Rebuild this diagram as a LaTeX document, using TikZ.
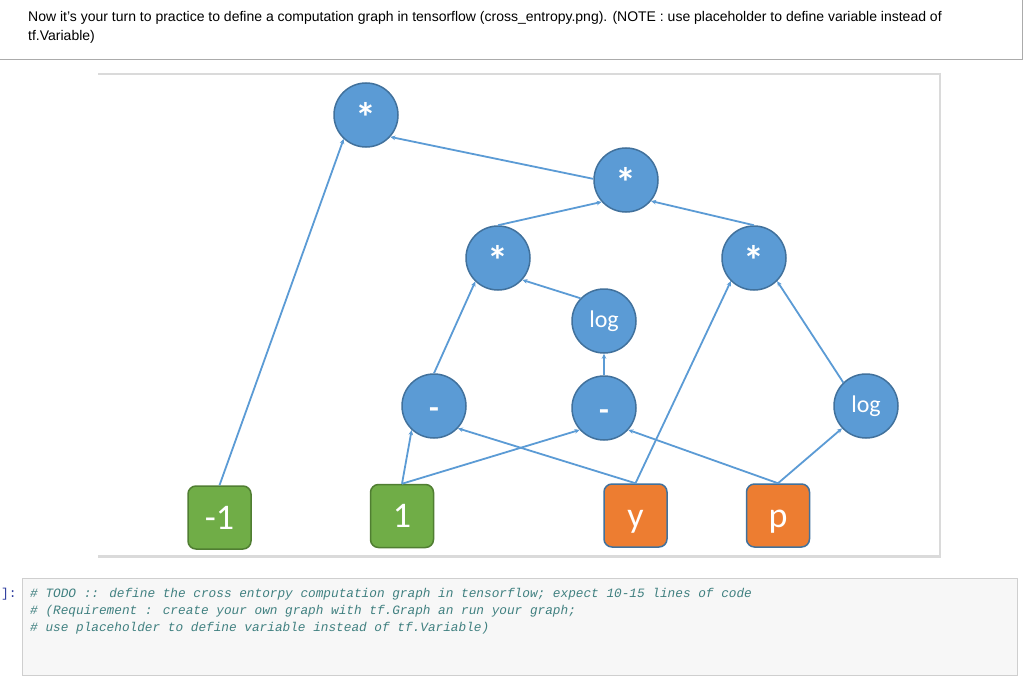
\documentclass[tikz,border=0pt]{standalone}
\usepackage{fontspec}
\setmainfont{Liberation Sans}
\newfontfamily\calib{Carlito}
\newfontfamily\codefont{Liberation Mono}
\usetikzlibrary{arrows.meta}
\definecolor{nodeblue}{HTML}{5B9BD5}
\definecolor{nodeline}{HTML}{41719C}
\definecolor{boxgreen}{HTML}{70AD47}
\definecolor{greenline}{HTML}{507E32}
\definecolor{boxorange}{HTML}{ED7D31}
\definecolor{cellline}{HTML}{ABABAB}
\definecolor{imgline}{HTML}{DADADA}
\definecolor{codebg}{HTML}{F7F7F7}
\definecolor{codeline}{HTML}{CFCFCF}
\definecolor{codetext}{HTML}{408080}
\definecolor{prompt}{HTML}{303F9F}
\tikzset{
  opnode/.style={circle, minimum size=64pt, inner sep=0pt, draw=nodeline, fill=nodeblue, line width=1.5pt, text=white},
  startxt/.style={inner sep=0pt, text=white, font=\calib\bfseries\fontsize{42}{42}\selectfont},
  minustxt/.style={inner sep=0pt, text=white, font=\calib\bfseries\fontsize{32}{32}\selectfont},
  logtxt/.style={font=\calib\fontsize{24}{24}\selectfont},
  boxnode/.style={rectangle, rounded corners=8pt, minimum size=63pt, inner sep=0pt, line width=1.5pt, text=white, text height=23pt, text depth=0pt, font=\calib\fontsize{36}{36}\selectfont},
  greenbox/.style={boxnode, draw=greenline, fill=boxgreen},
  orangebox/.style={boxnode, draw=nodeline, fill=boxorange},
  edge/.style={draw=nodeblue, line width=1.8pt, -{Stealth[length=5pt,width=4.5pt]}},
  codetxt/.style={anchor=base west, inner sep=0pt, text=codetext, font=\codefont\itshape\fontsize{12.75}{12.75}\selectfont},
  headtxt/.style={anchor=base west, inner sep=0pt, font=\fontsize{14}{14}\selectfont}
}
\begin{document}
\begin{tikzpicture}[x=1pt,y=-1pt]
\useasboundingbox (0,0) rectangle (1034,693);
\fill[white] (0,0) rectangle (1034,693);
% top markdown cell
\draw[cellline, line width=1pt] (-2,-2) rectangle (1022.5,59.5);
\node[headtxt] (h1) at (28,22) {Now it's your turn to practice to define a computation graph in tensorflow (cross\_entropy.png). (NOTE : use placeholder to define variable instead of};
\node[headtxt] (h2) at (28,41) {tf.Variable)};
% image frame
\draw[imgline, line width=2pt] (98,74) -- (940,74);
\draw[imgline, line width=1.5pt] (940,73) -- (940,556);
\draw[imgline, line width=3pt] (98,556) -- (941,556);
% operation nodes
\node[opnode] (tstar) at (366,115) {};
\node[startxt] (tstarl) at (366,117) {*};
\node[opnode] (mstar) at (626,180) {};
\node[startxt] (mstarl) at (626,182) {*};
\node[opnode] (lstar) at (498,258) {};
\node[startxt] (lstarl) at (498,260) {*};
\node[opnode] (rstar) at (754,258) {};
\node[startxt] (rstarl) at (754,260) {*};
\node[opnode, logtxt] (log1) at (604,321) {log};
\node[opnode] (minl) at (434,406) {};
\node[minustxt] (minll) at (434,413) {-};
\node[opnode] (minm) at (604,408) {};
\node[minustxt] (minml) at (604,415) {-};
\node[opnode, logtxt] (logr) at (866,406) {log};
% input boxes
\node[greenbox] (m1) at (219.5,517.5) {-1};
\node[greenbox] (one) at (402,516) {1};
\node[orangebox] (y) at (635.5,515.5) {y};
\node[orangebox] (p) at (778,515.5) {p};
% edges
\draw[edge] (m1.north) -- (tstar.227);
\draw[edge] (mstar.178) -- (tstar.318);
\draw[edge] (lstar.90) -- (mstar.222);
\draw[edge] (rstar.90) -- (mstar.320);
\draw[edge] (log1.136) -- (lstar.318);
\draw[edge] (minl.90) -- (lstar.226);
\draw[edge] (minm.90) -- (log1.270);
\draw[edge] (y.north) -- (rstar.225);
\draw[edge] (logr.134) -- (rstar.315);
\draw[edge] (one.north) -- (minl.227);
\draw[edge] (one.north) -- (minm.222);
\draw[edge] (y.north) -- (minl.317);
\draw[edge] (p.north) -- (minm.318);
\draw[edge] (p.north) -- (logr.223);
% code cell
\draw[codeline, fill=codebg, line width=1pt] (22.5,578.5) rectangle (1017.5,675.5);
\node[anchor=base west, inner sep=0pt, text=prompt, font=\codefont\fontsize{12.9}{12.9}\selectfont] (pr) at (1,597) {]:};
\node[codetxt] (c1) at (30,597) {\# TODO :: define the cross entorpy computation graph in tensorflow; expect 10-15 lines of code};
\node[codetxt] (c2) at (30,614) {\# (Requirement : create your own graph with tf.Graph an run your graph;};
\node[codetxt] (c3) at (30,631) {\# use placeholder to define variable instead of tf.Variable)};
\end{tikzpicture}
\end{document}
